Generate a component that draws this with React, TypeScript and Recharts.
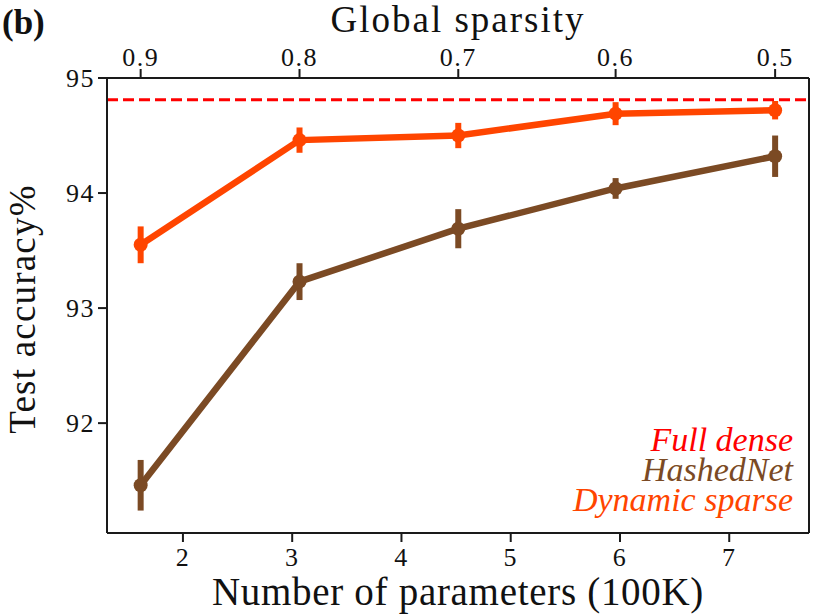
import React from 'react';
import { LineChart, Line, XAxis, YAxis, ErrorBar, ReferenceLine } from 'recharts';

const params = [1.613, 3.067, 4.52, 5.96, 7.42];
const sparsityLabels = ['0.9', '0.8', '0.7', '0.6', '0.5'];
const hashedNet = [91.46, 93.23, 93.69, 94.04, 94.32];
const hashedNetErr = [0.22, 0.16, 0.17, 0.09, 0.18];
const dynamicSparse = [93.55, 94.46, 94.5, 94.69, 94.72];
const dynamicSparseErr = [0.16, 0.11, 0.11, 0.1, 0.08];
const fullDense = 94.81;
const xTicks = [2, 3, 4, 5, 6, 7];
const yTicks = [92, 93, 94, 95];
const xDomain: [number, number] = [1.305, 7.73];
const yDomain: [number, number] = [91.045, 95];

const data = params.map((p, i) => ({
  params: p,
  hashed: hashedNet[i],
  hashedErr: hashedNetErr[i],
  dynamic: dynamicSparse[i],
  dynamicErr: dynamicSparseErr[i],
}));

const ORANGE = '#FF4500';
const BROWN = '#7B4A24';
const RED = '#FF0000';
const FONT = 'Liberation Serif';
const AXIS = '#1a1a1a';
const TEXT = '#111';

const tickTextStyle: React.CSSProperties = { fontFamily: FONT, fontSize: 26, letterSpacing: 1.5 };

const BottomTick = (props: any) => {
  const { x, y, payload } = props;
  return (
    <text x={x} y={y} dy="0.71em" textAnchor="middle" fill={TEXT} style={tickTextStyle}>
      {String(payload.value)}
    </text>
  );
};

const TopTick = (props: any) => {
  const { x, y, payload } = props;
  const idx = params.indexOf(payload.value);
  return (
    <text x={x} y={y} textAnchor="middle" fill={TEXT} style={tickTextStyle}>
      {idx >= 0 ? sparsityLabels[idx] : ''}
    </text>
  );
};

const LeftTick = (props: any) => {
  const { x, y, payload } = props;
  return (
    <text x={x} y={y} dy="0.355em" textAnchor="end" fill={TEXT} style={tickTextStyle}>
      {String(payload.value)}
    </text>
  );
};

export default function App() {
  return (
    <div style={{ position: 'absolute', left: 0, top: 0, width: 830, height: 616, background: '#fff' }}>
      <LineChart
        width={830}
        height={616}
        data={data}
        margin={{ top: 38, right: 20, bottom: 43, left: 47 }}
      >
        <XAxis
          xAxisId="bottom"
          dataKey="params"
          type="number"
          domain={xDomain}
          ticks={xTicks}
          height={40}
          tick={<BottomTick />}
          tickSize={9}
          tickMargin={6}
          stroke={AXIS}
          strokeWidth={2}
          tickLine={{ stroke: AXIS, strokeWidth: 2 }}
        />
        <XAxis
          xAxisId="top"
          orientation="top"
          dataKey="params"
          type="number"
          domain={xDomain}
          ticks={params}
          height={40}
          tick={<TopTick />}
          tickSize={9}
          tickMargin={3}
          stroke={AXIS}
          strokeWidth={2}
          tickLine={{ stroke: AXIS, strokeWidth: 2 }}
        />
        <YAxis
          yAxisId="left"
          type="number"
          domain={yDomain}
          ticks={yTicks}
          width={60}
          tick={<LeftTick />}
          tickSize={9}
          tickMargin={3}
          stroke={AXIS}
          strokeWidth={2}
          tickLine={{ stroke: AXIS, strokeWidth: 2 }}
        />
        <YAxis
          yAxisId="right"
          orientation="right"
          type="number"
          domain={yDomain}
          width={1}
          tick={false}
          tickLine={false}
          stroke={AXIS}
          strokeWidth={2}
        />
        <ReferenceLine
          xAxisId="bottom"
          yAxisId="left"
          y={fullDense}
          stroke={RED}
          strokeWidth={3}
          strokeDasharray="11 5"
        />
        <Line
          xAxisId="bottom"
          yAxisId="left"
          dataKey="hashed"
          stroke={BROWN}
          strokeWidth={6.5}
          dot={{ r: 7, fill: BROWN, stroke: BROWN, strokeWidth: 0 }}
          isAnimationActive={false}
        >
          <ErrorBar dataKey="hashedErr" direction="y" width={0} stroke={BROWN} strokeWidth={6} isAnimationActive={false} />
        </Line>
        <Line
          xAxisId="bottom"
          yAxisId="left"
          dataKey="dynamic"
          stroke={ORANGE}
          strokeWidth={6.5}
          dot={{ r: 7, fill: ORANGE, stroke: ORANGE, strokeWidth: 0 }}
          isAnimationActive={false}
        >
          <ErrorBar dataKey="dynamicErr" direction="y" width={0} stroke={ORANGE} strokeWidth={6} isAnimationActive={false} />
        </Line>
      </LineChart>
      <svg
        width={830}
        height={616}
        style={{ position: 'absolute', left: 0, top: 0, pointerEvents: 'none' }}
      >
        <text x={2} y={34} fill={TEXT} style={{ fontFamily: FONT, fontWeight: 'bold', fontSize: 35 }}>(b)</text>
        <text x={458} y={32} textAnchor="middle" fill={TEXT} style={{ fontFamily: FONT, fontSize: 37, letterSpacing: 2 }}>Global sparsity</text>
        <text x={458} y={605} textAnchor="middle" fill={TEXT} style={{ fontFamily: FONT, fontSize: 39, letterSpacing: 0.7 }}>Number of parameters (100K)</text>
        <text
          x={0}
          y={0}
          transform="translate(35, 309) rotate(-90)"
          textAnchor="middle"
          fill={TEXT}
          style={{ fontFamily: FONT, fontSize: 37, letterSpacing: 1.2 }}
        >
          Test accuracy%
        </text>
        <text x={793} y={451} textAnchor="end" fill={RED} style={{ fontFamily: FONT, fontStyle: 'italic', fontSize: 34 }}>Full dense</text>
        <text x={793} y={481} textAnchor="end" fill={BROWN} style={{ fontFamily: FONT, fontStyle: 'italic', fontSize: 34 }}>HashedNet</text>
        <text x={793} y={511} textAnchor="end" fill={ORANGE} style={{ fontFamily: FONT, fontStyle: 'italic', fontSize: 34 }}>Dynamic sparse</text>
      </svg>
    </div>
  );
}
